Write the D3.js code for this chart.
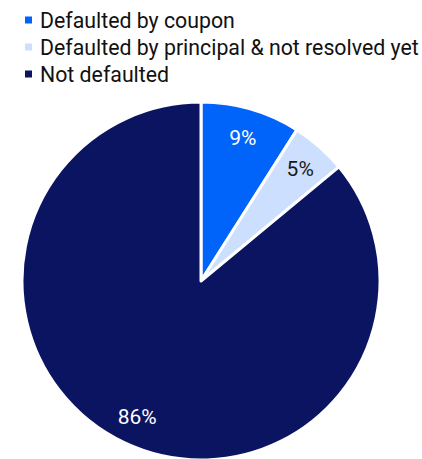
<!DOCTYPE html>
<html>
<head>
<meta charset="utf-8">
<script src="https://cdn.jsdelivr.net/npm/d3@7"></script>
<style>
  html, body { margin: 0; padding: 0; background: #fff; }
  svg { display: block; font-family: Roboto, "Noto Sans", sans-serif; }
</style>
</head>
<body>
<svg id="chart" width="422" height="459"></svg>
<script>
// Share of issues by default status
const categories = ["Defaulted by coupon", "Defaulted by principal & not resolved yet", "Not defaulted"];
const shares = [9, 5, 86];
const colors = ["#0064FA", "#CCDFFF", "#0B1461"];
const labelColors = ["#ffffff", "#1a1a1a", "#ffffff"];

const svg = d3.select("#chart");
const cx = 201, cy = 281, radius = 179;

const data = categories.map((c, i) => ({ name: c, value: shares[i], i }));

const color = d3.scaleOrdinal().domain(categories).range(colors);

// Legend
const legend = svg.append("g").attr("transform", "translate(25,0)");
const rows = legend.selectAll("g").data(data).join("g")
  .attr("transform", (d, i) => `translate(0,${20 + i * 27})`);
rows.append("rect")
  .attr("x", 0).attr("y", -3.5).attr("width", 7).attr("height", 7)
  .attr("fill", d => color(d.name));
rows.append("text")
  .attr("x", 15).attr("y", 0).attr("dy", "0.36em")
  .attr("font-size", 21.3).attr("fill", "#111")
  .text(d => d.name);

// Pie
const pie = d3.pie().sort(null).value(d => d.value);
const arc = d3.arc().innerRadius(0).outerRadius(radius);
const labelArc = d3.arc().innerRadius(150).outerRadius(150);

const g = svg.append("g").attr("transform", `translate(${cx},${cy})`);
const arcs = pie(data);

g.selectAll("path").data(arcs).join("path")
  .attr("d", arc)
  .attr("fill", d => color(d.data.name))
  .attr("stroke", "#fff")
  .attr("stroke-width", 3)
  .attr("stroke-linejoin", "round");

g.selectAll("text.val").data(arcs).join("text")
  .attr("class", "val")
  .attr("transform", d => `translate(${labelArc.centroid(d)})`)
  .attr("text-anchor", "middle")
  .attr("dy", "0.36em")
  .attr("font-size", 21)
  .attr("fill", d => labelColors[d.data.i])
  .text(d => d.data.value + "%");
</script>
</body>
</html>
